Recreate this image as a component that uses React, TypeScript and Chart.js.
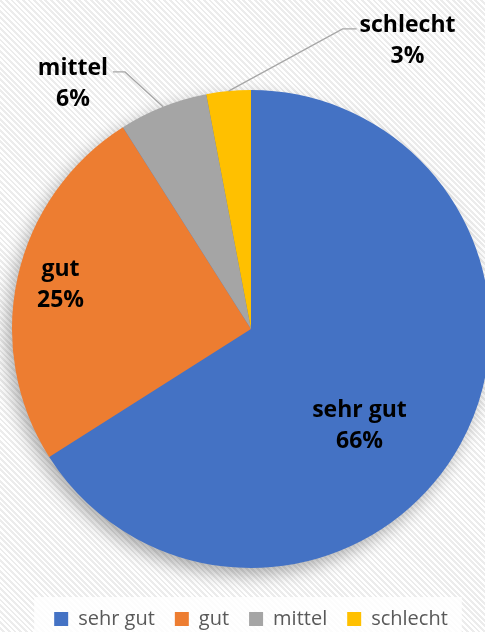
import React, { useEffect, useRef } from 'react';
import { Chart, registerables } from 'chart.js';

Chart.register(...registerables);

const categories = ['sehr gut', 'gut', 'mittel', 'schlecht'];
const values = [66, 25, 6, 3];
const colors = ['#4472C4', '#ED7D31', '#A5A5A5', '#FFC000'];

// label placement relative to the pie centre, in units of the pie radius
const labelPlacement: { dx: number; dy: number; leader: null | 'right' | 'left' }[] = [
  { dx: 0.454, dy: 0.368, leader: null },
  { dx: -0.797, dy: -0.222, leader: null },
  { dx: -0.745, dy: -1.063, leader: 'right' },
  { dx: 0.655, dy: -1.243, leader: 'left' },
];

const LABEL_FONT = 'bold 23px "Open Sans"';
const LINE_GAP = 31;

const total = values.reduce((a, b) => a + b, 0);
const percentLabels = values.map((v) => Math.round((v / total) * 100) + '%');

const shadowPlugin = {
  id: 'pieShadow',
  beforeDatasetsDraw(chart: any) {
    const meta = chart.getDatasetMeta(0);
    const arc = meta.data[0];
    if (!arc) return;
    const { x, y, outerRadius } = arc.getProps(['x', 'y', 'outerRadius'], true);
    const ctx = chart.ctx;
    ctx.save();
    ctx.shadowColor = 'rgba(0,0,0,0.33)';
    ctx.shadowBlur = 18;
    ctx.shadowOffsetX = -5;
    ctx.shadowOffsetY = 7;
    ctx.fillStyle = '#4472C4';
    ctx.beginPath();
    ctx.arc(x, y, outerRadius - 1, 0, Math.PI * 2);
    ctx.fill();
    ctx.restore();
  },
};

const legendBgPlugin = {
  id: 'legendBg',
  beforeDraw(chart: any) {
    const lg = chart.legend;
    if (!lg || !lg.legendHitBoxes || !lg.legendHitBoxes.length) return;
    const boxes = lg.legendHitBoxes;
    const minX = Math.min(...boxes.map((b: any) => b.left));
    const maxX = Math.max(...boxes.map((b: any) => b.left + b.width));
    const minY = Math.min(...boxes.map((b: any) => b.top));
    const ctx = chart.ctx;
    ctx.save();
    ctx.fillStyle = 'rgba(255,255,255,0.85)';
    ctx.fillRect(minX - 20, minY - 12, maxX - minX + 34, 60);
    ctx.restore();
  },
};

const labelPlugin = {
  id: 'pieLabels',
  afterDatasetsDraw(chart: any) {
    const ctx = chart.ctx;
    const meta = chart.getDatasetMeta(0);
    meta.data.forEach((el: any, i: number) => {
      const p = el.getProps(['x', 'y', 'startAngle', 'endAngle', 'outerRadius'], true);
      const pl = labelPlacement[i];
      const lx = p.x + pl.dx * p.outerRadius;
      const ly = p.y + pl.dy * p.outerRadius;
      ctx.save();
      ctx.font = LABEL_FONT;
      ctx.fillStyle = '#000000';
      ctx.textAlign = 'center';
      ctx.textBaseline = 'alphabetic';
      ctx.fillText(categories[i], lx, ly);
      ctx.fillText(percentLabels[i], lx, ly + LINE_GAP);
      if (pl.leader) {
        const mid = (p.startAngle + p.endAngle) / 2;
        const ax = p.x + Math.cos(mid) * p.outerRadius;
        const ay = p.y + Math.sin(mid) * p.outerRadius;
        const w = ctx.measureText(categories[i]).width;
        const yLine = ly - 3;
        let x1: number, x2: number;
        if (pl.leader === 'right') {
          x1 = lx + w / 2 + 5;
          x2 = x1 + 12;
        } else {
          x1 = lx - w / 2 - 3;
          x2 = x1 - 14;
        }
        ctx.strokeStyle = '#A6A6A6';
        ctx.lineWidth = 1.3;
        ctx.beginPath();
        ctx.moveTo(x1, yLine);
        ctx.lineTo(x2, yLine);
        ctx.lineTo(ax, ay);
        ctx.stroke();
      }
      ctx.restore();
    });
  },
};

export default function App() {
  const ref = useRef<HTMLCanvasElement | null>(null);

  useEffect(() => {
    if (!ref.current) return;
    const chart = new Chart(ref.current, {
      type: 'pie',
      data: {
        labels: categories,
        datasets: [
          {
            data: values,
            backgroundColor: colors,
            borderWidth: 0,
          },
        ],
      },
      options: {
        responsive: false,
        animation: false,
        layout: { padding: { left: 12, right: 12, top: 69, bottom: 1 } },
        plugins: {
          legend: {
            position: 'bottom',
            labels: {
              boxWidth: 14,
              boxHeight: 14,
              padding: 20,
              color: '#595959',
              font: { family: '"Open Sans"', size: 20 },
            },
          },
          tooltip: { enabled: false },
        },
      },
      plugins: [shadowPlugin, legendBgPlugin, labelPlugin],
    } as any);
    return () => chart.destroy();
  }, []);

  return (
    <div
      style={{
        position: 'absolute',
        left: 0,
        top: 0,
        width: 485,
        height: 632,
        overflow: 'hidden',
        background:
          'repeating-linear-gradient(45deg, #ffffff 0px, #ffffff 2px, #ececec 2px, #ececec 4px)',
      }}
    >
      <canvas ref={ref} width={502} height={640} style={{ display: 'block' }} />
    </div>
  );
}
